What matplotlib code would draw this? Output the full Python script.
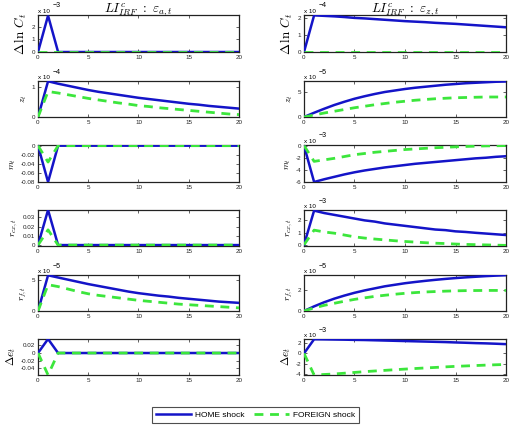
import matplotlib
matplotlib.use("Agg")
import matplotlib.pyplot as plt
from matplotlib.lines import Line2D
from matplotlib.ticker import FuncFormatter

plt.rcParams['font.family'] = ['Liberation Sans', 'DejaVu Sans']
plt.rcParams['mathtext.fontset'] = 'cm'

t = list(range(21))

# ---------------- Left column: eps_a shock ----------------
dlnC_a_home = [0, 2.9] + [0] * 19
dlnC_a_for = [0] * 21
z_a_home = [0, 1.19, 1.11, 1.04, 0.97, 0.90, 0.84, 0.79, 0.74, 0.69, 0.64,
            0.60, 0.56, 0.52, 0.48, 0.44, 0.41, 0.37, 0.34, 0.31, 0.28]
z_a_for = [0, 0.85, 0.80, 0.74, 0.68, 0.62, 0.57, 0.52, 0.47, 0.43, 0.38,
           0.35, 0.31, 0.28, 0.25, 0.22, 0.19, 0.16, 0.13, 0.10, 0.08]
m_a_home = [0, -0.08] + [0] * 19
m_a_for = [0, -0.036] + [0] * 19
rcx_a_home = [0, 0.038] + [0] * 19
rcx_a_for = [0, 0.0165] + [0] * 19
rf_a_home = [0, 5.7, 5.35, 5.0, 4.65, 4.3, 4.0, 3.7, 3.4, 3.1, 2.85,
             2.65, 2.45, 2.3, 2.1, 1.95, 1.8, 1.65, 1.5, 1.4, 1.3]
rf_a_for = [0, 4.2, 3.9, 3.5, 3.1, 2.75, 2.5, 2.3, 2.1, 1.9, 1.7,
            1.55, 1.4, 1.25, 1.1, 1.0, 0.9, 0.8, 0.7, 0.6, 0.5]
de_a_home = [0, 0.037] + [0] * 19
de_a_for = [0, -0.058] + [0] * 19

# ---------------- Right column: eps_z shock ----------------
dlnC_z_home = [0, 2.15, 2.12, 2.09, 2.05, 2.0, 1.97, 1.93, 1.89, 1.85, 1.81,
               1.78, 1.75, 1.71, 1.68, 1.65, 1.61, 1.57, 1.53, 1.49, 1.45]
dlnC_z_for = [0] * 21
z_z_home = [0, 0.85, 1.65, 2.4, 3.05, 3.65, 4.15, 4.6, 5.0, 5.3, 5.6,
            5.85, 6.05, 6.25, 6.45, 6.6, 6.75, 6.85, 6.95, 7.05, 7.1]
z_z_for = [0, 0.4, 0.8, 1.15, 1.5, 1.85, 2.15, 2.45, 2.7, 2.95, 3.15,
           3.35, 3.5, 3.65, 3.75, 3.85, 3.9, 3.95, 4.0, 4.0, 4.0]
m_z_home = [0, -6.0, -5.55, -5.15, -4.75, -4.4, -4.1, -3.85, -3.6, -3.4, -3.2,
            -3.0, -2.85, -2.7, -2.55, -2.4, -2.25, -2.1, -2.0, -1.85, -1.75]
m_z_for = [0, -2.6, -2.35, -2.1, -1.8, -1.5, -1.3, -1.1, -0.95, -0.8, -0.65,
           -0.55, -0.45, -0.35, -0.28, -0.2, -0.14, -0.09, -0.05, -0.02, 0.0]
rcx_z_home = [0, 2.8, 2.6, 2.45, 2.3, 2.15, 2.0, 1.9, 1.75, 1.65, 1.55,
              1.45, 1.35, 1.25, 1.2, 1.1, 1.05, 0.98, 0.92, 0.86, 0.8]
rcx_z_for = [0, 1.2, 1.05, 0.95, 0.8, 0.65, 0.55, 0.47, 0.4, 0.33, 0.27,
             0.22, 0.17, 0.13, 0.1, 0.06, 0.03, 0.01, -0.01, -0.03, -0.05]
rf_z_home = [0, 0.45, 0.85, 1.2, 1.5, 1.77, 2.0, 2.2, 2.4, 2.55, 2.7,
             2.82, 2.93, 3.03, 3.12, 3.2, 3.27, 3.33, 3.39, 3.44, 3.48]
rf_z_for = [0, 0.3, 0.55, 0.75, 0.95, 1.13, 1.28, 1.42, 1.53, 1.63, 1.72,
            1.79, 1.85, 1.89, 1.93, 1.96, 1.98, 1.99, 2.0, 2.0, 2.0]
de_z_home = [0, 2.75, 2.73, 2.7, 2.67, 2.63, 2.6, 2.55, 2.5, 2.45, 2.4,
             2.35, 2.3, 2.25, 2.2, 2.13, 2.07, 2.0, 1.95, 1.88, 1.8]
de_z_for = [0, -4.2, -4.1, -4.0, -3.85, -3.7, -3.55, -3.42, -3.3, -3.17, -3.05,
            -2.94, -2.83, -2.73, -2.62, -2.52, -2.44, -2.36, -2.28, -2.21, -2.15]

ylabels = [r'$\Delta\,\ln\,C_t$', r'$z_t$', r'$m_t$', r'$r_{cx,t}$', r'$r_{f,t}$', r'$\Delta e_t$']
ylabel_sizes = [9.5, 6.5, 6.5, 7, 7, 8]
titles = [r'$LI^c_{IRF}\ :\ \varepsilon_{a,t}$', r'$LI^c_{IRF}\ :\ \varepsilon_{z,t}$']

# (home, foreign, exponent of scale, ylim, yticks) - values given in scaled units
left_panels = [
    (dlnC_a_home, dlnC_a_for, -3, (0, 2.95), [0, 1, 2]),
    (z_a_home, z_a_for, -4, (0, 1.2), [0, 1]),
    (m_a_home, m_a_for, 0, (-0.08, 0.0015), [-0.08, -0.06, -0.04, -0.02, 0]),
    (rcx_a_home, rcx_a_for, 0, (-0.001, 0.038), [0, 0.01, 0.02, 0.03]),
    (rf_a_home, rf_a_for, -5, (0, 5.75), [0, 5]),
    (de_a_home, de_a_for, 0, (-0.058, 0.037), [-0.04, -0.02, 0, 0.02]),
]
right_panels = [
    (dlnC_z_home, dlnC_z_for, -4, (0, 2.17), [0, 1, 2]),
    (z_z_home, z_z_for, -5, (0, 7.2), [0, 5]),
    (m_z_home, m_z_for, -3, (-6.0, 0.1), [-6, -4, -2, 0]),
    (rcx_z_home, rcx_z_for, -3, (-0.1, 2.85), [0, 1, 2]),
    (rf_z_home, rf_z_for, -5, (0, 3.5), [0, 2]),
    (de_z_home, de_z_for, -3, (-4.2, 2.8), [-4, -2, 0, 2]),
]

W, H = 510, 425
fig = plt.figure(figsize=(W / 100, H / 100), dpi=100)

rows_px = [(15, 52), (81, 117), (145, 182), (210, 246), (275, 311), (339, 375)]
cols_px = [(38, 239), (304, 506)]

BLUE = '#1414c8'
GREEN = '#3ce63c'

for c, panels in enumerate([left_panels, right_panels]):
    x0, x1 = cols_px[c]
    for r, (home, foreign, ex, ylim, yt) in enumerate(panels):
        top, bot = rows_px[r]
        ax = fig.add_axes([x0 / W, 1 - bot / H, (x1 - x0) / W, (bot - top) / H])
        sc = 10.0 ** ex
        hv = [v * sc for v in home]
        fv = [v * sc for v in foreign]
        ax.plot(t, hv, color=BLUE, lw=1.8, solid_joinstyle='miter', zorder=3)
        ax.plot(t, fv, color=GREEN, lw=2.0, ls=(0, (3.2, 2.4)), zorder=4)
        ax.set_xlim(0, 20)
        ax.set_ylim(ylim[0] * sc, ylim[1] * sc)
        ax.set_xticks([0, 5, 10, 15, 20])
        ax.set_yticks([v * sc for v in yt])
        ax.yaxis.set_major_formatter(FuncFormatter(lambda v, p, s=sc: '%g' % round(v / s, 6)))
        ax.tick_params(direction='in', length=2, width=0.5, labelsize=4.5, pad=2,
                       top=True, right=True, colors='#222222')
        for sp in ax.spines.values():
            sp.set_linewidth(0.9)
            sp.set_color('#222222')
        ax.set_ylabel(ylabels[r], fontsize=ylabel_sizes[r], labelpad=2)
        if ex != 0:
            ax.text(0.0, 1.03, 'x 10', transform=ax.transAxes, fontsize=4.5,
                    ha='left', va='bottom')
            ax.text(0.075, 1.15, '\u2212%d' % (-ex), transform=ax.transAxes, fontsize=5,
                    ha='left', va='bottom')
        if r == 0:
            ax.set_title(titles[c], fontsize=9.5, pad=2)

handles = [Line2D([], [], color=BLUE, lw=1.8),
           Line2D([], [], color=GREEN, lw=2.0, ls=(0, (3.2, 2.4)))]
leg = fig.legend(handles, ['HOME shock', 'FOREIGN shock'], loc='center',
                 bbox_to_anchor=(255.5 / W, 1 - 415 / H), ncol=2, fontsize=6,
                 frameon=True, fancybox=False, handlelength=4.2, columnspacing=1.1,
                 handletextpad=0.5, borderpad=0.45, edgecolor='#222222')
leg.get_frame().set_linewidth(0.8)

fig.savefig('out.png', dpi=100)
